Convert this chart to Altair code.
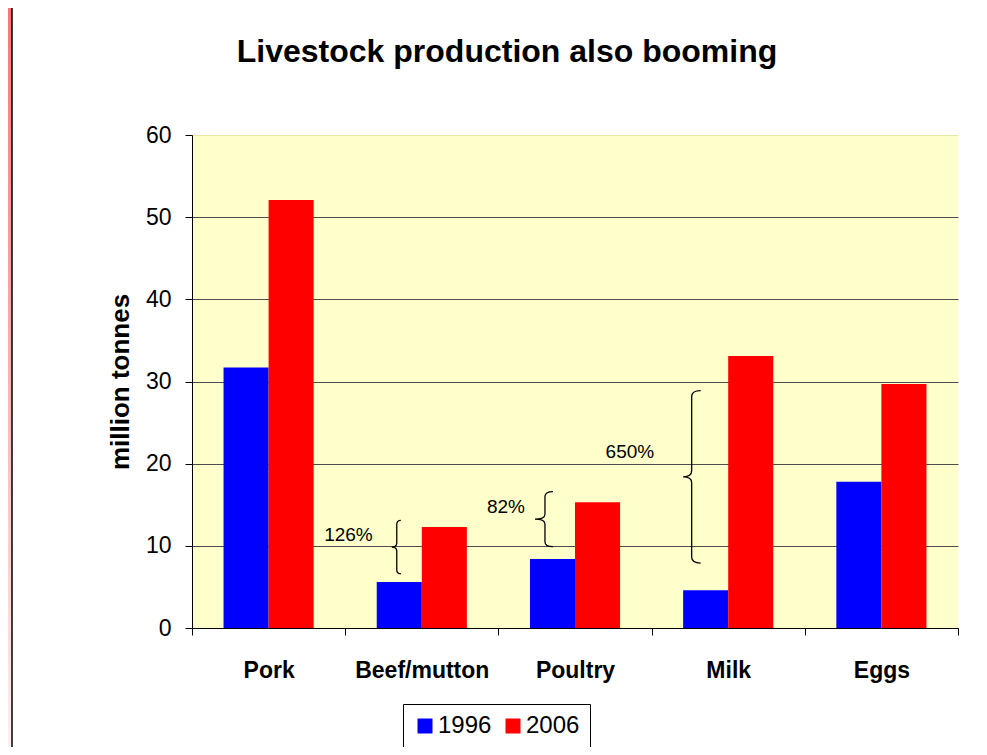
import altair as alt
import pandas as pd

# ---- data ----
categories = ["Pork", "Beef/mutton", "Poultry", "Milk", "Eggs"]
years = ["1996", "2006"]
v1996 = [31.7, 5.6, 8.4, 4.6, 17.8]
v2006 = [52.1, 12.3, 15.3, 33.1, 29.7]
y_ticks = [0, 10, 20, 30, 40, 50, 60]

ann_cats = ["Beef/mutton", "Poultry", "Milk"]
ann_text = ["126%", "82%", "650%"]
ann_lo = [6.6, 9.9, 7.9]
ann_hi = [13.1, 16.6, 28.9]
ann_label_y = [11.3, 14.7, 21.4]

title_text = "Livestock production also booming"
y_title = "million tonnes"

FONT = "Liberation Sans"
W, H = 766, 493
PAD = {"left": 184, "top": 127, "right": 21, "bottom": 119}

bars_df = pd.DataFrame(
    {
        "cat": categories * 2,
        "year": [years[0]] * len(categories) + [years[1]] * len(categories),
        "value": v1996 + v2006,
    }
)
ann_df = pd.DataFrame(
    {
        "cat": ann_cats,
        "year": [years[0]] * len(ann_cats),
        "label": ann_text,
        "lo": ann_lo,
        "hi": ann_hi,
        "label_y": ann_label_y,
    }
)
one = pd.DataFrame({"k": [0]})

x_enc = alt.X(
    "cat:N",
    sort=categories,
    scale=alt.Scale(paddingInner=0, paddingOuter=0),
    axis=alt.Axis(
        title=None,
        labelAngle=0,
        labelFontSize=23,
        labelFontWeight="bold",
        labelColor="black",
        labelPadding=24,
        tickSize=7,
        tickBand="extent",
        tickColor="black",
        domainColor="black",
        grid=False,
    ),
)
xo_enc = alt.XOffset(
    "year:N", sort=years, scale=alt.Scale(paddingInner=0, paddingOuter=0.7)
)
y_scale = alt.Scale(domain=[0, 60], nice=False)

bars = (
    alt.Chart(bars_df)
    .mark_bar()
    .encode(
        x=x_enc,
        xOffset=xo_enc,
        y=alt.Y(
            "value:Q",
            scale=y_scale,
            axis=alt.Axis(
                values=y_ticks,
                tickSize=7,
                tickColor="black",
                domainColor="black",
                labelFontSize=23,
                labelColor="black",
                labelPadding=14,
                title=y_title,
                titleFontSize=26,
                titleFontWeight="bold",
                titleColor="black",
                titlePadding=12,
                grid=True,
                gridColor={
                    "condition": {"test": "datum.value === 60", "value": "#e6e6a6"},
                    "value": "#4d4d4d",
                },
                gridOpacity=1,
                gridWidth=1,
            ),
        ),
        color=alt.Color(
            "year:N",
            sort=years,
            scale=alt.Scale(domain=years, range=["#0000ff", "#ff0000"]),
            legend=alt.Legend(
                title=None,
                orient="none",
                legendX=211,
                legendY=569,
                direction="horizontal",
                symbolType="square",
                symbolSize=225,
                symbolStrokeWidth=0,
                symbolOpacity=1,
                labelFontSize=24,
                labelColor="black",
                labelOffset=1,
                columnPadding=9,
                padding=10,
                strokeColor="black",
                fillColor="white",
            ),
        ),
    )
)


def brace_expr(o, t, e, c):
    h = "((scale('y', datum.lo) - scale('y', datum.hi)) / 2)"
    parts = [
        f"'M {o + e} '",
        f"(-{h})",
        f"' Q {o} '",
        f"(-{h})",
        f"' {o} '",
        f"({c} - {h})",
        f"' L {o} {-c} Q {o} 0 {o - t} 0 Q {o} 0 {o} {c} L {o} '",
        f"({h} - {c})",
        f"' Q {o} '",
        h,
        f"' {o + e} '",
        h,
    ]
    return " + ".join(parts)


# style per annotation: brace offset, tip, end, curl ; label dx
brace_style = [(-2.5, 5, 4, 4), (-7.5, 10, 8, 5), (-14, 8.5, 9, 6)]
label_dx = [-26.5, -27.5, -51.5]

ann_layers = []
for i, cat in enumerate(ann_cats):
    base = alt.Chart(ann_df).transform_filter(alt.datum.cat == cat)
    brace = (
        base.transform_calculate(mid="(datum.lo + datum.hi) / 2")
        .mark_point(
            shape=alt.ExprRef(expr=brace_expr(*brace_style[i])),
            size=4,
            filled=False,
            color="black",
            strokeWidth=1.3,
            opacity=1,
        )
        .encode(
            x=alt.X("cat:N", sort=categories),
            xOffset=alt.XOffset("year:N", sort=years),
            y=alt.Y("mid:Q", scale=y_scale),
        )
    )
    label = base.mark_text(
        align="right", baseline="middle", dx=label_dx[i], fontSize=19, font=FONT, color="black"
    ).encode(
        x=alt.X("cat:N", sort=categories),
        xOffset=alt.XOffset("year:N", sort=years),
        y=alt.Y("label_y:Q", scale=y_scale),
        text="label:N",
    )
    ann_layers += [brace, label]

strip = (
    alt.Chart(one)
    .mark_rect(
        color=alt.LinearGradient(
            gradient="linear",
            stops=[
                alt.GradientStop(color="#ff7474", offset=0),
                alt.GradientStop(color="#ffeef0", offset=1),
            ],
            x1=0, x2=0, y1=0, y2=1,
        )
    )
    .encode(x=alt.value(-184), x2=alt.value(-180), y=alt.value(-127), y2=alt.value(612))
)
border = (
    alt.Chart(one)
    .mark_rule(color="black", strokeWidth=1.5)
    .encode(x=alt.value(-180), y=alt.value(-127), y2=alt.value(612))
)
title = (
    alt.Chart(one)
    .mark_text(
        text=title_text,
        fontSize=32,
        fontWeight="bold",
        font=FONT,
        color="black",
        align="center",
        baseline="alphabetic",
    )
    .encode(x=alt.value(315), y=alt.value(-73))
)

chart = (
    alt.layer(strip, border, bars, *ann_layers, title)
    .properties(
        width=W,
        height=H,
        autosize=alt.AutoSizeParams(type="none"),
        padding=PAD,
        background="white",
    )
    .configure(font=FONT)
    .configure_view(fill="#ffffcc", stroke=None)
    .configure_axis(labelFont=FONT, titleFont=FONT)
    .configure_legend(labelFont=FONT)
)

chart.save("out.html", embed_options={"renderer": "svg", "actions": False})
